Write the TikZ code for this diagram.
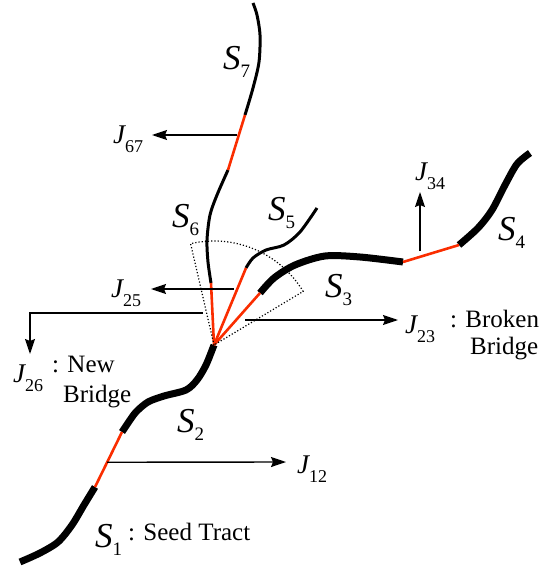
\documentclass[tikz,border=0pt]{standalone}
\usepackage{fontspec}
\setmainfont{Liberation Serif}
\newfontfamily\labfont{Liberation Serif}
\usepackage{tikz}
\usetikzlibrary{calc,arrows.meta}

\definecolor{bridgered}{RGB}{250,45,0}
% S_i and J_ij labels: big italic letter, index set well below it
\newcommand{\seglab}[1]{{\labfont\fontsize{35}{35}\selectfont\itshape S}\raisebox{-8pt}{\labfont\fontsize{19}{19}\selectfont #1}}
\newcommand{\junlab}[1]{{\labfont\fontsize{27}{27}\selectfont\itshape J}\raisebox{-9pt}{\labfont\fontsize{18}{18}\selectfont #1}}

\begin{document}
\begin{tikzpicture}[>={Stealth[length=15pt,width=10pt,inset=2pt]}, x=1pt, y=-1pt,
  tract/.style={line width=7pt},
  fibre/.style={line width=3pt},
  bridge/.style={bridgered, line width=2.6pt},
  jarrow/.style={->, line width=1.4pt},
  lab/.style={anchor=base west, inner sep=0pt},
  txt/.style={anchor=base west, inner sep=0pt, font=\labfont\fontsize{25}{27}\selectfont}]
  \useasboundingbox (0,0) rectangle (539,575);
  % end points of the tracts (pixel coordinates, y runs downwards)
  \coordinate (jc)  at (214,345);
  \coordinate (s1b) at (95,487);
  \coordinate (s2a) at (122,432);
  \coordinate (s3a) at (260,293);
  \coordinate (s3b) at (403,262);
  \coordinate (s4a) at (459,245);
  \coordinate (s5a) at (246,268);
  \coordinate (s6a) at (211,283);
  \coordinate (s6b) at (228,170);
  \coordinate (s7a) at (245,115);
  % the tracts: S1--S4 thick, S5--S7 thin
  \draw[tract] plot[smooth] coordinates {(20,562) (40,553) (58,542) (72,525) (84,505) (s1b)};
  \draw[tract] plot[smooth] coordinates {(s2a) (128,423) (136,412) (148,402) (164,396) (186,390) (197,380) (206,365) (jc)};
  \draw[tract] plot[smooth] coordinates {(s3a) (274,278) (295,265) (325,256) (360,257) (s3b)};
  \draw[tract] plot[smooth] coordinates {(s4a) (478,228) (492,210) (505,185) (517,164) (530,153)};
  \draw[fibre] plot[smooth] coordinates {(s5a) (253,258) (266,250) (284,245) (300,232) (317,208)};
  \draw[fibre] plot[smooth] coordinates {(s6a) (208,262) (207,240) (210,215) (217,195) (s6b)};
  \draw[fibre] plot[smooth] coordinates {(s7a) (253,88) (259,62) (260,35) (257,15) (253,3)};
  % bridges between the tracts
  \draw[bridge] (s1b) -- (s2a);
  \draw[bridge] (jc) -- (s6a);
  \draw[bridge] (jc) -- (s5a);
  \draw[bridge] (jc) -- (s3a);
  \draw[bridge] (s3b) -- (s4a);
  \draw[bridge] (s6b) -- (s7a);
  % search cone round the junction
  \draw[dotted, line width=1.2pt] (jc) -- ++(-103:104) arc (-103:-31:104) -- cycle;
  % segment labels
  \node[lab] (lS1) at (95,547) {\seglab{1}};
  \node[txt] (tS1) at (128,540) {: Seed Tract};
  \node[lab] (lS2) at (177,432) {\seglab{2}};
  \node[lab] (lS3) at (325,297) {\seglab{3}};
  \node[lab] (lS4) at (498,240) {\seglab{4}};
  \node[lab] (lS5) at (268,220) {\seglab{5}};
  \node[lab] (lS6) at (172,227) {\seglab{6}};
  \node[lab] (lS7) at (223,70) {\seglab{7}};
  % junction labels
  \node[lab] (j12) at (297,473) {\junlab{12}};
  \node[lab] (j23) at (405,333) {\junlab{23}};
  \node[txt] (t23a) at (450,327) {: Broken};
  \node[txt] (t23b) at (470,354) {Bridge};
  \node[lab] (j25) at (111,297) {\junlab{25}};
  \node[lab] (j26) at (13,382) {\junlab{26}};
  \node[txt] (t26a) at (52,372) {: New};
  \node[txt] (t26b) at (63,402) {Bridge};
  \node[lab] (j34) at (415,180) {\junlab{34}};
  \node[lab] (j67) at (113,143) {\junlab{67}};
  % arrows from the bridges to their labels
  \coordinate (r12) at ($(s2a)!0.55!(s1b)$);
  \coordinate (a12) at (286,462);
  \draw[jarrow] (r12) -- (a12);
  \coordinate (r23) at (245,320);
  \coordinate (a23) at (398,320);
  \draw[jarrow] (r23) -- (a23);
  \coordinate (r25) at (234,289);
  \coordinate (a25) at (151,289);
  \draw[jarrow] (r25) -- (a25);
  \coordinate (r26) at (203,313);
  \coordinate (a26) at (30,354);
  \draw[jarrow] (r26) -| (a26);
  \coordinate (r34) at (420,251);
  \coordinate (a34) at (420,192);
  \draw[jarrow] (r34) -- (a34);
  \coordinate (r67) at (237,135);
  \coordinate (a67) at (152,135);
  \draw[jarrow] (r67) -- (a67);
\end{tikzpicture}
\end{document}
